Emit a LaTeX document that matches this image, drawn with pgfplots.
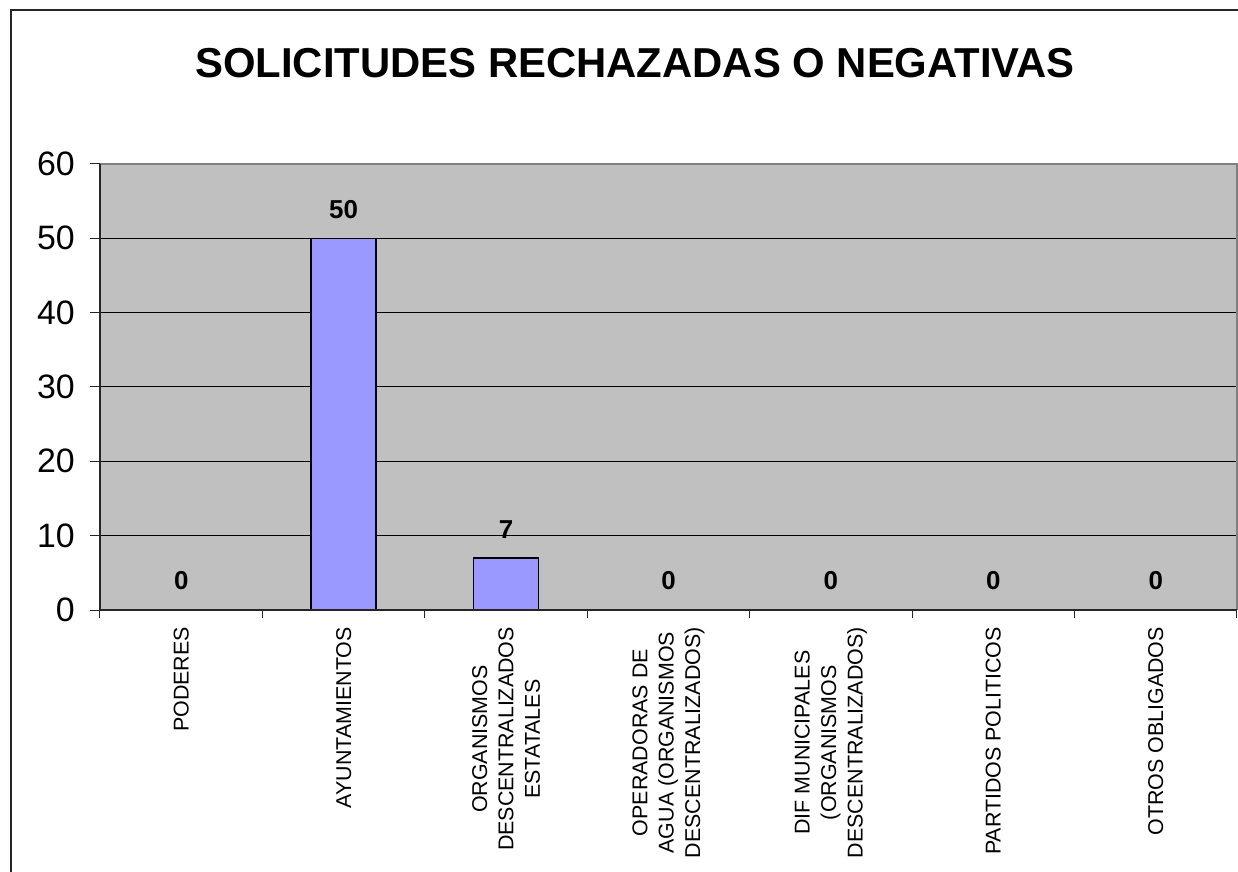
\documentclass[border=0pt]{standalone}
\usepackage{pgfplots}
\pgfplotsset{compat=1.18}
\usepackage{fontspec}
\setmainfont{Liberation Sans}
\definecolor{plotbg}{HTML}{C0C0C0}
\definecolor{barfill}{HTML}{9999FF}
\definecolor{bordergray}{HTML}{808080}
\begin{document}
\begin{tikzpicture}[x=1bp,y=1bp]
\useasboundingbox (-100,-262) rectangle (1138,610);
\draw[line width=1.2bp, black!85] (-89,-270) -- (-89,600) -- (1145,600);
\node[font=\bfseries\fontsize{42}{50}\selectfont, anchor=base] at (535,532) {SOLICITUDES RECHAZADAS O NEGATIVAS};
\begin{axis}[
  at={(0,0)}, anchor=south west,
  scale only axis, width=1137bp, height=446bp,
  xmin=-0.5, xmax=6.5, ymin=0, ymax=60,
  /pgf/number format/assume math mode=true,
  axis background/.style={fill=plotbg},
  axis line style={draw=none},
  tick pos=left,
  ytick={0,10,...,60},
  ymajorgrids, grid style={black, line width=1bp},
  tick align=outside,
  tick style={black!85, line width=1bp},
  major tick length=10bp,
  yticklabel style={font=\fontsize{34}{40}\selectfont, inner sep=0pt, xshift=-15bp},
  xtick={0,...,6},
  major x tick style={draw=none},
  minor x tick style={black!85, line width=1bp},
  minor xtick={-0.5,0.5,...,6.5},
  minor tick length=8bp,
  xticklabels={PODERES, AYUNTAMIENTOS, {ORGANISMOS\\DESCENTRALIZADOS\\ESTATALES}, {OPERADORAS DE\\AGUA (ORGANISMOS\\DESCENTRALIZADOS)}, {DIF MUNICIPALES\\(ORGANISMOS\\DESCENTRALIZADOS)}, PARTIDOS POLITICOS, OTROS OBLIGADOS},
  xticklabel style={rotate=90, anchor=east, align=center, inner sep=0pt, font=\fontsize{21.5}{26.5}\selectfont, xshift=-7bp},
  ybar, bar width=65bp,
  nodes near coords,
  every node near coord/.append style={font=\bfseries\fontsize{26}{30}\selectfont, inner sep=0pt, anchor=south, yshift=19bp},
  clip=false,
]
\addplot[fill=barfill, draw=black, line width=1.5bp] coordinates {(0,0) (1,50) (2,7) (3,0) (4,0) (5,0) (6,0)};
\draw[bordergray, line width=2bp] (axis cs:-0.5,60) -- (axis cs:6.5,60) -- (axis cs:6.5,0);
\draw[black!85, line width=1.2bp] (axis cs:-0.5,60) -- (axis cs:-0.5,0) -- (axis cs:6.5,0);
\end{axis}
\end{tikzpicture}
\end{document}
